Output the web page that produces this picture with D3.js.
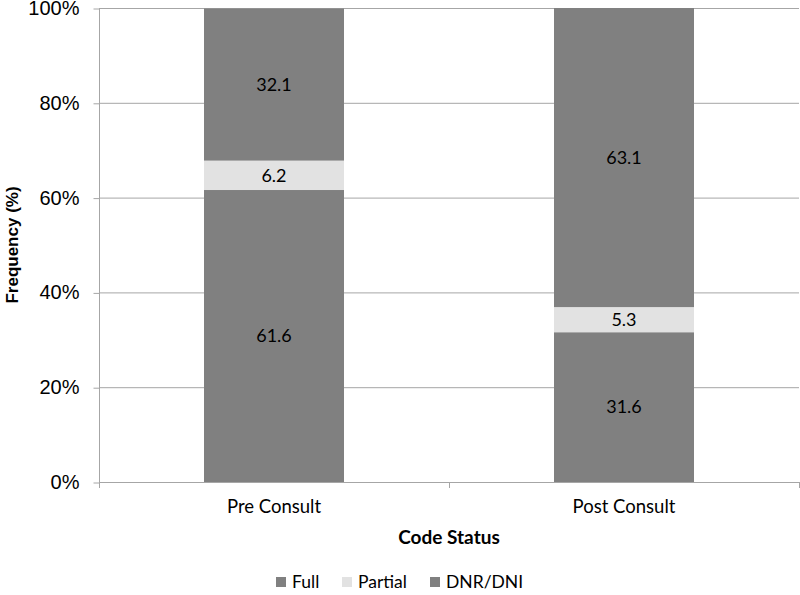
<!DOCTYPE html>
<html>
<head>
<meta charset="utf-8">
<script src="https://cdn.jsdelivr.net/npm/d3@7"></script>
<style>
  body { margin: 0; background: #fff; }
  svg { display: block; }
</style>
</head>
<body>
<script>
// data
const categories = ["Pre Consult", "Post Consult"];
const seriesNames = ["Full", "Partial", "DNR/DNI"];
const fullValues = [61.6, 31.6];
const partialValues = [6.2, 5.3];
const dnrValues = [32.1, 63.1];
const yTicks = [0, 20, 40, 60, 80, 100];

const rows = categories.map((c, i) => ({
  cat: c,
  "Full": fullValues[i],
  "Partial": partialValues[i],
  "DNR/DNI": dnrValues[i]
}));

const W = 800, H = 595;
const margin = { top: 8, right: 1, bottom: 113, left: 99 };
const width = W - margin.left - margin.right,
  height = H - margin.top - margin.bottom;

const colors = { "Full": "#808080", "Partial": "#e2e2e2", "DNR/DNI": "#808080" };

const svg = d3.select("body").append("svg")
  .attr("width", W)
  .attr("height", H);

const g = svg.append("g")
  .attr("transform", "translate(" + margin.left + "," + margin.top + ")");

const x = d3.scaleBand().domain(categories).range([0, width])
  .paddingInner(0.6).paddingOuter(0.3);
const xAxisScale = d3.scaleBand().domain(categories).range([0, width]);
const y = d3.scaleLinear().domain([0, 100]).range([height, 0]);

// gridlines
g.selectAll(".grid")
  .data(yTicks.filter(d => d > 0))
  .enter()
  .append("line")
  .attr("x1", 0)
  .attr("x2", width)
  .attr("y1", d => y(d) + 0.5)
  .attr("y2", d => y(d) + 0.5)
  .attr("stroke", "#a6a6a6")
  .attr("stroke-width", 1);

// stacked bars
const stacked = d3.stack().keys(seriesNames)(rows);

const layer = g.selectAll(".layer")
  .data(stacked)
  .enter()
  .append("g")
  .attr("fill", d => colors[d.key]);

layer.selectAll("rect")
  .data(d => d)
  .enter()
  .append("rect")
  .attr("x", d => x(d.data.cat))
  .attr("y", d => y(d[1]))
  .attr("width", x.bandwidth())
  .attr("height", d => y(d[0]) - y(d[1]));

layer.selectAll("text")
  .data(d => d.map(v => ({ v: v, key: d.key })))
  .enter()
  .append("text")
  .attr("x", d => x(d.v.data.cat) + x.bandwidth() / 2)
  .attr("y", d => y((d.v[0] + d.v[1]) / 2))
  .attr("dy", "0.35em")
  .attr("text-anchor", "middle")
  .attr("fill", "#000")
  .style("font-family", "Lato, 'Open Sans', sans-serif")
  .style("font-size", "18px")
  .text(d => d.v.data[d.key].toFixed(1));

// y axis
const yAxis = g.append("g")
  .attr("transform", "translate(0.5,0)")
  .call(d3.axisLeft(y).tickValues(yTicks).tickSize(6).tickPadding(14).tickFormat(d => d + "%"));
yAxis.select(".domain").attr("stroke", "#a6a6a6").attr("d", "M0," + height + "V0");
yAxis.selectAll(".tick line").attr("stroke", "#a6a6a6").attr("transform", "translate(0,0.5)");
yAxis.selectAll("text")
  .attr("fill", "#000")
  .style("font-family", "'Liberation Sans', Arial, sans-serif")
  .style("font-size", "20px");

// x axis
const xAxis = g.append("g")
  .attr("transform", "translate(0," + (height + 0.5) + ")")
  .call(d3.axisBottom(xAxisScale).tickSize(0).tickPadding(17));
xAxis.select(".domain").attr("stroke", "#a6a6a6").attr("d", "M0,0H" + width);
xAxis.selectAll("text")
  .attr("fill", "#000")
  .style("font-family", "Lato, 'Open Sans', sans-serif")
  .style("font-size", "18.5px");

// category boundary ticks
g.selectAll(".xtick")
  .data([0, 1, 2])
  .enter()
  .append("line")
  .attr("x1", d => d * xAxisScale.step() + 0.5)
  .attr("x2", d => d * xAxisScale.step() + 0.5)
  .attr("y1", height)
  .attr("y2", height + 6)
  .attr("stroke", "#a6a6a6");

// axis titles
svg.append("text")
  .attr("transform", "translate(18," + (margin.top + height / 2) + ") rotate(-90)")
  .attr("text-anchor", "middle")
  .style("font-family", "'Liberation Sans', Arial, sans-serif")
  .style("font-weight", "bold")
  .style("font-size", "17px")
  .text("Frequency (%)");

svg.append("text")
  .attr("x", margin.left + width / 2)
  .attr("y", 544)
  .attr("text-anchor", "middle")
  .style("font-family", "Lato, 'Open Sans', sans-serif")
  .style("font-weight", "bold")
  .style("font-size", "19px")
  .text("Code Status");

// legend
const legendX = [276, 342, 430];
const legend = svg.selectAll(".legend")
  .data(seriesNames)
  .enter()
  .append("g")
  .attr("transform", (d, i) => "translate(" + legendX[i] + ",577)");

legend.append("rect")
  .attr("width", 10)
  .attr("height", 10)
  .attr("fill", d => colors[d]);

legend.append("text")
  .attr("x", 16)
  .attr("y", 5)
  .attr("dy", "0.36em")
  .style("font-family", "Lato, 'Open Sans', sans-serif")
  .style("font-size", "17.5px")
  .text(d => d);
</script>
</body>
</html>
